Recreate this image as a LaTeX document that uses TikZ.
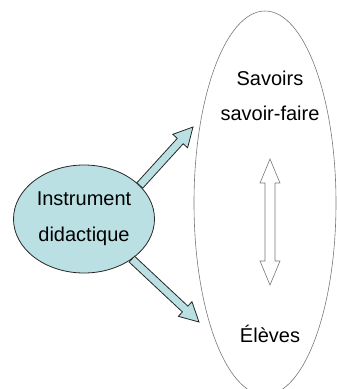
\documentclass[tikz,border=0pt]{standalone}
\usepackage{fontspec}
\setmainfont{Liberation Sans}
\usetikzlibrary{shapes.geometric,calc}

\definecolor{lightteal}{RGB}{187,224,227}
\definecolor{rimgray}{RGB}{120,120,120}

\tikzset{
  label text/.style={font=\fontsize{20pt}{35pt}\selectfont, inner sep=0pt, align=center},
  tool/.style={ellipse, draw=black!85, fill=lightteal, line width=0.8pt,
    minimum width=141pt, minimum height=108pt, inner sep=0pt, align=center,
    font=\fontsize{20pt}{36pt}\selectfont},
  class/.style={ellipse, draw=rimgray, line width=0.6pt,
    minimum width=142pt, minimum height=384pt, inner sep=0pt},
  fat arrow/.style={draw=black!85, fill=lightteal, line width=0.8pt},
  hollow arrow/.style={draw=rimgray, fill=white, line width=0.6pt},
}

% block arrow: style, tail, tip, half shaft, half head, head length
\newcommand{\fatarrow}[6]{%
  \coordinate (fa-base) at ($(#3)!#6!(#2)$);
  \draw[#1] ($(#2)!#4!90:(#3)$) -- ($(fa-base)!#4!90:(#3)$) -- ($(fa-base)!#5!90:(#3)$) -- (#3)
    -- ($(fa-base)!#5!-90:(#3)$) -- ($(fa-base)!#4!-90:(#3)$) -- ($(#2)!#4!-90:(#3)$) -- cycle;
}

% same with a head at both ends
\newcommand{\twowayarrow}[6]{%
  \coordinate (tw-a) at ($(#2)!#6!(#3)$);
  \coordinate (tw-b) at ($(#3)!#6!(#2)$);
  \draw[#1] (#2) -- ($(tw-a)!#5!90:(#3)$) -- ($(tw-a)!#4!90:(#3)$) -- ($(tw-b)!#4!90:(#3)$)
    -- ($(tw-b)!#5!90:(#3)$) -- (#3) -- ($(tw-b)!#5!-90:(#3)$) -- ($(tw-b)!#4!-90:(#3)$)
    -- ($(tw-a)!#4!-90:(#3)$) -- ($(tw-a)!#5!-90:(#3)$) -- cycle;
}

\begin{document}
\begin{tikzpicture}[x=1pt, y=-1pt]
  \useasboundingbox (0,0) rectangle (337,389);
  \node[class] (classe) at (265,203) {};
  \node[label text] (savoirs) at (270,96) {Savoirs\\savoir-faire};
  \node[label text, anchor=base] (eleves) at (270,342) {Élèves};
  \node[tool] (instrument) at (84,219) {Instrument\\didactique};
  \coordinate (up-tip) at (193,127);
  \coordinate (down-tip) at (199,322);
  \coordinate (link-top) at (270,159);
  \coordinate (link-bottom) at (270,285);
  \fatarrow{fat arrow}{instrument.31}{up-tip}{4pt}{10pt}{19pt}
  \fatarrow{fat arrow}{instrument.-40}{down-tip}{4pt}{10pt}{19pt}
  \twowayarrow{hollow arrow}{link-top}{link-bottom}{5pt}{10pt}{24pt}
\end{tikzpicture}
\end{document}
